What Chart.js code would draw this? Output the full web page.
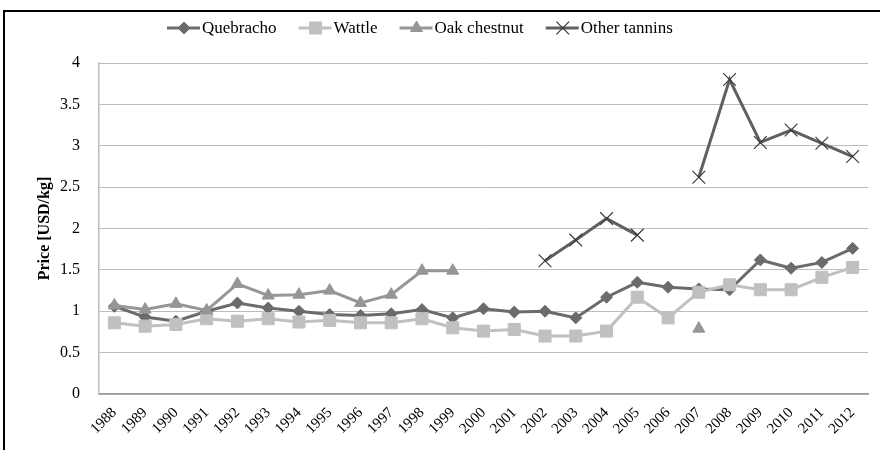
<!DOCTYPE html>
<html>
<head>
<meta charset="utf-8">
<script src="https://cdn.jsdelivr.net/npm/chart.js@4"></script>
<style>
  html, body { margin: 0; padding: 0; background: #fff; }
  #wrap { position: relative; width: 880px; height: 450px; }
  #frame { position: absolute; left: 3px; top: 10px; right: 0; bottom: 0; border-top: 2px solid #000; border-left: 2px solid #000; pointer-events: none; }
</style>
</head>
<body>
<div id="wrap">
  <canvas id="tanninChart" width="880" height="450"></canvas>
  <div id="frame"></div>
</div>
<script>
// Años (eje X)
const years = ['1988','1989','1990','1991','1992','1993','1994','1995','1996','1997','1998','1999','2000',
  '2001','2002','2003','2004','2005','2006','2007','2008','2009','2010','2011','2012'];

// Precios (USD/kg)
const quebracho = [1.06, 0.93, 0.88, 1.00, 1.10, 1.04, 1.00, 0.96, 0.95, 0.97, 1.02, 0.92, 1.03,
  0.99, 1.00, 0.92, 1.17, 1.35, 1.29, 1.27, 1.26, 1.62, 1.52, 1.59, 1.76];
const wattle = [0.86, 0.82, 0.84, 0.91, 0.88, 0.91, 0.87, 0.89, 0.86, 0.86, 0.91, 0.80, 0.76,
  0.78, 0.70, 0.70, 0.76, 1.17, 0.92, 1.23, 1.32, 1.26, 1.26, 1.41, 1.53];
const oakChestnut = [1.07, 1.02, 1.09, 1.01, 1.33, 1.19, 1.20, 1.25, 1.10, 1.20, 1.49, 1.49, null,
  null, null, null, null, null, null, 0.79, null, null, null, null, null];
const otherTannins = [null, null, null, null, null, null, null, null, null, null, null, null, null,
  null, 1.61, 1.86, 2.12, 1.92, null, 2.62, 3.80, 3.04, 3.19, 3.03, 2.87];

const yTicks = [0, 0.5, 1, 1.5, 2, 2.5, 3, 3.5, 4];

const serif = '"Liberation Serif", "Times New Roman", serif';

// Leyenda dibujada a mano (línea + marcador, estilo Excel)
const lineLegend = {
  id: 'lineLegend',
  afterDraw(chart) {
    const ctx = chart.ctx;
    const y = 28;
    let x = 167;
    ctx.save();
    ctx.font = '17px ' + serif;
    ctx.textBaseline = 'middle';
    chart.data.datasets.forEach(ds => {
      ctx.strokeStyle = ds.borderColor;
      ctx.lineWidth = 3;
      ctx.beginPath();
      ctx.moveTo(x, y);
      ctx.lineTo(x + 33, y);
      ctx.stroke();
      ctx.fillStyle = ds.pointBackgroundColor;
      ctx.strokeStyle = ds.pointBorderColor;
      ctx.lineWidth = ds.pointBorderWidth;
      Chart.helpers.drawPoint(ctx, { pointStyle: ds.pointStyle, radius: ds.pointRadius, rotation: 0, borderWidth: ds.pointBorderWidth }, x + 17, y);
      ctx.fillStyle = '#000';
      ctx.fillText(ds.label, x + 35, y + 1);
      x += 35 + ctx.measureText(ds.label).width + 22;
    });
    ctx.restore();
  }
};

function makeSeries(label, data, color, style, radius, order, markerColor) {
  return {
    label: label,
    data: data,
    borderColor: color,
    backgroundColor: color,
    borderWidth: 3,
    pointStyle: style,
    pointRadius: radius,
    pointHoverRadius: radius,
    pointBackgroundColor: markerColor || color,
    pointBorderColor: markerColor || color,
    pointBorderWidth: style === 'crossRot' ? 1.2 : 1,
    spanGaps: false,
    tension: 0,
    order: order
  };
}

new Chart(document.getElementById('tanninChart'), {
  type: 'line',
  data: {
    labels: years,
    datasets: [
      makeSeries('Quebracho', quebracho, '#6b6b6b', 'rectRot', 6, 4),
      makeSeries('Wattle', wattle, '#c0c0c0', 'rect', 8.5, 3),
      makeSeries('Oak chestnut', oakChestnut, '#969696', 'triangle', 7, 2),
      makeSeries('Other tannins', otherTannins, '#606060', 'crossRot', 9, 1, '#3a3a3a')
    ]
  },
  options: {
    responsive: false,
    animation: false,
    layout: { padding: { top: 63, right: 12, left: 0, bottom: 0 } },
    plugins: {
      legend: { display: false },
      tooltip: { enabled: false }
    },
    scales: {
      x: {
        offset: true,
        grid: { display: false },
        border: { color: '#9a9a9a', width: 1.5 },
        ticks: {
          color: '#000',
          font: { family: serif, size: 15 },
          maxRotation: 45,
          minRotation: 45,
          autoSkip: false,
          padding: 2
        },
        afterFit: s => { s.height = 56; }
      },
      y: {
        min: 0,
        max: 4,
        afterBuildTicks: s => { s.ticks = yTicks.map(v => ({ value: v })); },
        grid: { color: '#bcbcbc', lineWidth: 1, drawTicks: false },
        border: { color: '#bcbcbc', width: 1.5 },
        ticks: {
          color: '#000',
          font: { family: serif, size: 16 },
          padding: 19,
          callback: v => String(v)
        },
        title: {
          display: true,
          text: 'Price [USD/kg]',
          color: '#000',
          font: { family: serif, size: 16, weight: 'bold', lineHeight: 1.2 },
          padding: { top: 35, bottom: 0 }
        },
        afterFit: s => { s.width = 99; }
      }
    }
  },
  plugins: [lineLegend]
});
</script>
</body>
</html>
